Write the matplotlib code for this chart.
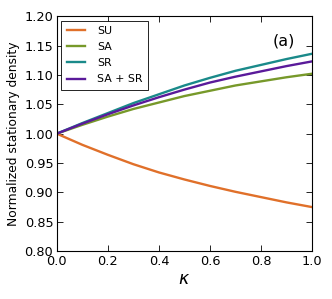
import numpy as np
import matplotlib
matplotlib.use('Agg')
import matplotlib.pyplot as plt

# kappa grid and normalized stationary density
kappa = [0.0, 0.1, 0.2, 0.3, 0.4, 0.5, 0.6, 0.7, 0.8, 0.9, 1.0]
su = [1.000, 0.981, 0.964, 0.948, 0.934, 0.922, 0.911, 0.901, 0.892, 0.883, 0.875]
sa = [1.000, 1.015, 1.029, 1.042, 1.053, 1.064, 1.073, 1.082, 1.089, 1.096, 1.102]
sr = [1.000, 1.018, 1.035, 1.052, 1.067, 1.082, 1.095, 1.107, 1.117, 1.127, 1.136]
sa_sr = [1.000, 1.017, 1.033, 1.048, 1.062, 1.075, 1.087, 1.097, 1.106, 1.115, 1.123]

labels = ['SU', 'SA', 'SR', 'SA + SR']
colors = ['#e0702a', '#77992a', '#1a8a8a', '#5a1a9a']

fig = plt.figure(figsize=(3.32, 2.99), dpi=100)
ax = fig.add_axes([0.171, 0.160, 0.769, 0.786])

for ys, lab, c in zip([su, sa, sr, sa_sr], labels, colors):
    ax.plot(kappa, ys, color=c, lw=1.7, label=lab)

ax.set_xlim(0, 1)
ax.set_ylim(0.80, 1.20)
ax.set_xticks(np.arange(0, 1.01, 0.2))
ax.set_yticks(np.arange(0.80, 1.201, 0.05))
ax.xaxis.set_major_formatter(plt.FormatStrFormatter('%.1f'))
ax.yaxis.set_major_formatter(plt.FormatStrFormatter('%.2f'))
ax.tick_params(direction='in', top=True, right=True, length=4, width=0.6, labelsize=9.3, pad=2.5)
for s in ax.spines.values():
    s.set_linewidth(0.8)

ax.set_xlabel(r'$\kappa$', fontsize=12.5, labelpad=2)
ax.set_ylabel('Normalized stationary density', fontsize=8.8, labelpad=3)
ax.text(0.933, 0.896, '(a)', transform=ax.transAxes, ha='right', va='center', fontsize=11.5)

leg = ax.legend(loc='upper left', fontsize=7.9, fancybox=False, framealpha=1,
                edgecolor='black', borderaxespad=0.4, handlelength=1.65,
                handletextpad=1.1, labelspacing=0.56, borderpad=0.5)
leg.get_frame().set_linewidth(0.6)

fig.savefig('out.png', dpi=100)
